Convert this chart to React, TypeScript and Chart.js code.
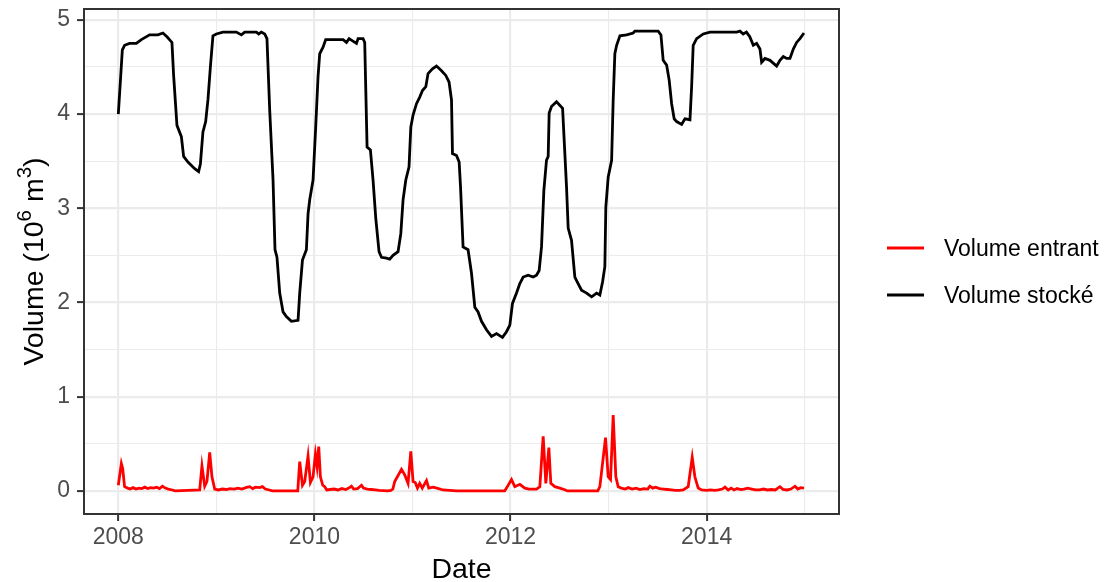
import React, { useEffect, useRef } from 'react';
import { Chart, registerables } from 'chart.js';

Chart.register(...registerables);

// ---- Data (decimal years) ----
const storedDates = [
  2008.0, 2008.041, 2008.064, 2008.115, 2008.184, 2008.235, 2008.319, 2008.404, 2008.455, 2008.496,
  2008.547, 2008.564, 2008.598, 2008.643, 2008.666, 2008.71, 2008.779, 2008.819, 2008.837, 2008.863,
  2008.891, 2008.914, 2008.939, 2008.965, 2009.0, 2009.067, 2009.204, 2009.255, 2009.289, 2009.408,
  2009.432, 2009.459, 2009.493, 2009.516, 2009.544, 2009.578, 2009.598, 2009.618, 2009.646, 2009.68,
  2009.714, 2009.765, 2009.833, 2009.85, 2009.878, 2009.918, 2009.935, 2009.952, 2009.986, 2010.013,
  2010.037, 2010.054, 2010.088, 2010.115, 2010.19, 2010.292, 2010.327, 2010.353, 2010.429, 2010.445,
  2010.496, 2010.513, 2010.537, 2010.571, 2010.598, 2010.626, 2010.659, 2010.684, 2010.735, 2010.768,
  2010.802, 2010.853, 2010.881, 2010.904, 2010.932, 2010.965, 2010.983, 2011.006, 2011.041, 2011.074,
  2011.102, 2011.136, 2011.159, 2011.204, 2011.245, 2011.296, 2011.34, 2011.373, 2011.398, 2011.408,
  2011.449, 2011.476, 2011.49, 2011.516, 2011.567, 2011.602, 2011.636, 2011.669, 2011.704, 2011.755,
  2011.806, 2011.857, 2011.918, 2011.959, 2011.993, 2012.02, 2012.061, 2012.095, 2012.129, 2012.18,
  2012.231, 2012.265, 2012.292, 2012.316, 2012.34, 2012.367, 2012.384, 2012.394, 2012.418, 2012.469,
  2012.531, 2012.544, 2012.571, 2012.588, 2012.622, 2012.656, 2012.68, 2012.724, 2012.776, 2012.827,
  2012.878, 2012.911, 2012.939, 2012.962, 2012.972, 2012.996, 2013.031, 2013.047, 2013.064, 2013.082,
  2013.116, 2013.184, 2013.251, 2013.268, 2013.506, 2013.534, 2013.557, 2013.592, 2013.618, 2013.643,
  2013.669, 2013.694, 2013.745, 2013.779, 2013.83, 2013.847, 2013.863, 2013.898, 2013.966, 2014.034,
  2014.306, 2014.34, 2014.373, 2014.406, 2014.44, 2014.476, 2014.51, 2014.544, 2014.561, 2014.595,
  2014.646, 2014.714, 2014.748, 2014.782, 2014.816, 2014.85, 2014.884, 2014.918, 2014.952, 2014.993,
];

const storedValues = [
  4.0, 4.68, 4.73, 4.75, 4.75, 4.79, 4.84, 4.84, 4.86, 4.82,
  4.76, 4.41, 3.88, 3.76, 3.55, 3.49, 3.42, 3.39, 3.47, 3.81,
  3.92, 4.15, 4.5, 4.83, 4.85, 4.87, 4.87, 4.84, 4.87, 4.87,
  4.85, 4.87, 4.85, 4.8, 4.04, 3.3, 2.56, 2.48, 2.1, 1.9,
  1.85, 1.8, 1.81, 2.1, 2.45, 2.56, 2.94, 3.09, 3.3, 3.86,
  4.4, 4.64, 4.71, 4.79, 4.79, 4.79, 4.76, 4.8, 4.75, 4.8,
  4.8, 4.76, 3.65, 3.62, 3.3, 2.89, 2.54, 2.48, 2.47, 2.46,
  2.5, 2.54, 2.73, 3.09, 3.3, 3.44, 3.86, 3.99, 4.11, 4.18,
  4.25, 4.29, 4.43, 4.48, 4.51, 4.46, 4.41, 4.34, 4.15, 3.58,
  3.56, 3.49, 3.23, 2.59, 2.56, 2.31, 1.95, 1.9, 1.8, 1.71,
  1.64, 1.67, 1.63, 1.69, 1.76, 1.99, 2.1, 2.2, 2.27, 2.29,
  2.27, 2.29, 2.34, 2.59, 3.19, 3.51, 3.55, 4.01, 4.08, 4.13,
  4.06, 3.79, 3.23, 2.79, 2.66, 2.27, 2.22, 2.13, 2.1, 2.06,
  2.1, 2.08, 2.22, 2.38, 3.01, 3.33, 3.51, 4.15, 4.64, 4.73,
  4.83, 4.84, 4.86, 4.88, 4.88, 4.84, 4.57, 4.52, 4.36, 4.11,
  3.95, 3.92, 3.89, 3.95, 3.94, 4.29, 4.73, 4.8, 4.85, 4.87,
  4.87, 4.88, 4.85, 4.87, 4.82, 4.73, 4.75, 4.69, 4.55, 4.59,
  4.57, 4.51, 4.57, 4.61, 4.59, 4.59, 4.69, 4.76, 4.8, 4.86,
];

const inflowDates = [
  2008.0, 2008.031, 2008.044, 2008.064, 2008.095, 2008.12, 2008.15, 2008.18, 2008.21, 2008.24,
  2008.27, 2008.3, 2008.33, 2008.36, 2008.39, 2008.42, 2008.45, 2008.48, 2008.51, 2008.55,
  2008.58, 2008.83, 2008.853, 2008.881, 2008.904, 2008.932, 2008.955, 2008.983, 2009.02, 2009.06,
  2009.1, 2009.14, 2009.18, 2009.22, 2009.26, 2009.3, 2009.34, 2009.37, 2009.4, 2009.44,
  2009.47, 2009.5, 2009.54, 2009.57, 2009.83, 2009.85, 2009.878, 2009.901, 2009.935, 2009.959,
  2009.986, 2010.01, 2010.027, 2010.044, 2010.061, 2010.085, 2010.105, 2010.126, 2010.16, 2010.2,
  2010.24, 2010.28, 2010.32, 2010.35, 2010.378, 2010.4, 2010.44, 2010.48, 2010.5, 2010.54,
  2010.58, 2010.62, 2010.66, 2010.75, 2010.78, 2010.8, 2010.819, 2010.888, 2010.921, 2010.955,
  2010.983, 2011.006, 2011.028, 2011.051, 2011.074, 2011.1, 2011.143, 2011.166, 2011.21, 2011.25,
  2011.31, 2011.38, 2011.45, 2011.94, 2011.959, 2012.01, 2012.044, 2012.095, 2012.146, 2012.19,
  2012.265, 2012.299, 2012.333, 2012.36, 2012.391, 2012.411, 2012.452, 2012.503, 2012.56, 2012.58,
  2012.89, 2012.911, 2012.969, 2012.996, 2013.02, 2013.047, 2013.074, 2013.098, 2013.13, 2013.17,
  2013.2, 2013.24, 2013.28, 2013.32, 2013.36, 2013.4, 2013.421, 2013.45, 2013.48, 2013.52,
  2013.56, 2013.6, 2013.64, 2013.68, 2013.72, 2013.761, 2013.812, 2013.853, 2013.88, 2013.914,
  2013.95, 2014.0, 2014.04, 2014.08, 2014.12, 2014.16, 2014.187, 2014.22, 2014.25, 2014.28,
  2014.31, 2014.35, 2014.38, 2014.42, 2014.46, 2014.5, 2014.54, 2014.58, 2014.62, 2014.66,
  2014.7, 2014.748, 2014.78, 2014.82, 2014.86, 2014.901, 2014.93, 2014.96, 2014.993,
];

const inflowValues = [
  0.06, 0.29, 0.24, 0.045, 0.03, 0.02, 0.035, 0.02, 0.03, 0.025,
  0.04, 0.025, 0.035, 0.03, 0.04, 0.025, 0.05, 0.03, 0.02, 0.01,
  0.0, 0.01, 0.265, 0.05, 0.1, 0.41, 0.15, 0.02, 0.01, 0.02,
  0.015, 0.025, 0.02, 0.03, 0.02, 0.035, 0.045, 0.025, 0.04, 0.035,
  0.045, 0.02, 0.01, 0.0, 0.0, 0.31, 0.06, 0.1, 0.37, 0.09,
  0.15, 0.39, 0.26, 0.47, 0.15, 0.06, 0.045, 0.01, 0.015, 0.02,
  0.01, 0.025, 0.015, 0.03, 0.05, 0.02, 0.025, 0.06, 0.03, 0.02,
  0.015, 0.01, 0.005, 0.0, 0.005, 0.02, 0.1, 0.23, 0.17, 0.08,
  0.42, 0.1, 0.09, 0.03, 0.08, 0.03, 0.11, 0.03, 0.04, 0.03,
  0.01, 0.005, 0.0, 0.0, 0.03, 0.12, 0.045, 0.07, 0.03, 0.02,
  0.02, 0.045, 0.58, 0.08, 0.46, 0.08, 0.045, 0.03, 0.01, 0.0,
  0.0, 0.045, 0.565, 0.15, 0.12, 0.806, 0.15, 0.045, 0.03, 0.02,
  0.035, 0.02, 0.03, 0.015, 0.025, 0.02, 0.05, 0.03, 0.04, 0.025,
  0.02, 0.015, 0.01, 0.005, 0.005, 0.01, 0.045, 0.357, 0.15, 0.03,
  0.01, 0.005, 0.01, 0.005, 0.01, 0.02, 0.04, 0.01, 0.03, 0.01,
  0.025, 0.015, 0.02, 0.03, 0.02, 0.01, 0.01, 0.02, 0.01, 0.015,
  0.01, 0.045, 0.015, 0.01, 0.02, 0.05, 0.02, 0.035, 0.03,
];

const seriesLabels = ['Volume entrant', 'Volume stocké'];
const seriesColors = ['#FF0000', '#000000'];

const xGridYears = [2008, 2009, 2010, 2011, 2012, 2013, 2014, 2015];
const xTickLabels = [2008, 2010, 2012, 2014];
const yGridValues = [0, 0.5, 1, 1.5, 2, 2.5, 3, 3.5, 4, 4.5, 5];
const yTickLabels = [0, 1, 2, 3, 4, 5];

const xTitle = 'Date';
const yTitleParts = [
  { text: 'Volume (10', sup: false },
  { text: '6', sup: true },
  { text: ' m', sup: false },
  { text: '3', sup: true },
  { text: ')', sup: false },
];

const FONT = '"Liberation Sans", Arial, Helvetica, sans-serif';
const TICK_SIZE = 23;
const TITLE_SIZE = 28.5;

export default function App() {
  const ref = useRef<HTMLCanvasElement>(null);

  useEffect(() => {
    const canvas = ref.current;
    if (!canvas) return;

    const toPoints = (xs: number[], ys: number[]) => xs.map((x, i) => ({ x, y: ys[i] }));

    const decorations = {
      id: 'decorations',
      afterDraw(chart: any) {
        const { ctx, chartArea } = chart;
        const { left, right, top, bottom } = chartArea;
        ctx.save();
        // panel border
        ctx.strokeStyle = '#333333';
        ctx.lineWidth = 2;
        ctx.strokeRect(left, top, right - left, bottom - top);

        // x title
        ctx.fillStyle = '#000000';
        ctx.font = `${TITLE_SIZE}px ${FONT}`;
        ctx.textAlign = 'center';
        ctx.textBaseline = 'alphabetic';
        ctx.fillText(xTitle, (left + right) / 2, 578);

        // y title (rotated, with superscripts)
        ctx.save();
        ctx.translate(43, (top + bottom) / 2);
        ctx.rotate(-Math.PI / 2);
        ctx.textAlign = 'left';
        const supSize = TITLE_SIZE * 0.72;
        let total = 0;
        const widths = yTitleParts.map((p) => {
          ctx.font = `${p.sup ? supSize : TITLE_SIZE}px ${FONT}`;
          const w = ctx.measureText(p.text).width;
          total += w;
          return w;
        });
        let cx = -total / 2;
        yTitleParts.forEach((p, i) => {
          ctx.font = `${p.sup ? supSize : TITLE_SIZE}px ${FONT}`;
          ctx.fillText(p.text, cx, p.sup ? -TITLE_SIZE * 0.42 : 0);
          cx += widths[i];
        });
        ctx.restore();

        // legend
        const legendYs = [248, 295];
        chart.data.datasets.forEach((ds: any, i: number) => {
          const y = legendYs[i];
          ctx.strokeStyle = ds.borderColor;
          ctx.lineWidth = 3;
          ctx.beginPath();
          ctx.moveTo(887, y);
          ctx.lineTo(924, y);
          ctx.stroke();
          ctx.fillStyle = '#000000';
          ctx.font = `${TICK_SIZE}px ${FONT}`;
          ctx.textAlign = 'left';
          ctx.textBaseline = 'alphabetic';
          ctx.fillText(ds.label, 944, y + 8.3);
        });
        ctx.restore();
      },
    };

    const chart = new Chart(canvas, {
      type: 'line',
      data: {
        datasets: [
          {
            label: seriesLabels[0],
            data: toPoints(inflowDates, inflowValues),
            borderColor: seriesColors[0],
            backgroundColor: seriesColors[0],
            borderWidth: 2.8,
            pointRadius: 0,
            tension: 0,
            fill: false,
          },
          {
            label: seriesLabels[1],
            data: toPoints(storedDates, storedValues),
            borderColor: seriesColors[1],
            backgroundColor: seriesColors[1],
            borderWidth: 2.8,
            pointRadius: 0,
            tension: 0,
            fill: false,
          },
        ],
      },
      options: {
        responsive: false,
        animation: false,
        events: [],
        layout: { padding: { left: 0, right: 269, top: 9, bottom: 0 } },
        plugins: { legend: { display: false }, tooltip: { enabled: false }, title: { display: false } },
        scales: {
          x: {
            type: 'linear',
            min: 2007.65,
            max: 2015.35,
            afterBuildTicks: (s: any) => {
              s.ticks = xGridYears.map((v) => ({ value: v }));
            },
            afterFit: (s: any) => {
              s.height = 68;
              s.paddingLeft = 0;
              s.paddingRight = 0;
            },
            ticks: {
              autoSkip: false,
              maxRotation: 0,
              minRotation: 0,
              padding: 3,
              color: '#4D4D4D',
              font: { family: FONT, size: TICK_SIZE },
              callback: (v: any) => (xTickLabels.includes(Number(v)) ? String(v) : ''),
            },
            grid: {
              color: '#EBEBEB',
              lineWidth: (c: any) => (c.tick && xTickLabels.includes(c.tick.value) ? 2.2 : 1.1),
              drawTicks: true,
              tickLength: 7,
              tickWidth: 2,
              tickColor: (c: any) => (c.tick && xTickLabels.includes(c.tick.value) ? '#333333' : 'rgba(0,0,0,0)'),
            },
            border: { display: false },
          },
          y: {
            type: 'linear',
            min: -0.245,
            max: 5.115,
            afterBuildTicks: (s: any) => {
              s.ticks = yGridValues.map((v) => ({ value: v }));
            },
            afterFit: (s: any) => {
              s.width = 84;
              s.paddingTop = 0;
              s.paddingBottom = 0;
            },
            ticks: {
              autoSkip: false,
              padding: 7,
              color: '#4D4D4D',
              font: { family: FONT, size: TICK_SIZE },
              callback: (v: any) => (yTickLabels.includes(Number(v)) ? String(v) : ''),
            },
            grid: {
              color: '#EBEBEB',
              lineWidth: (c: any) => (c.tick && yTickLabels.includes(c.tick.value) ? 2.2 : 1.1),
              drawTicks: true,
              tickLength: 7,
              tickWidth: 2,
              tickColor: (c: any) => (c.tick && yTickLabels.includes(c.tick.value) ? '#333333' : 'rgba(0,0,0,0)'),
            },
            border: { display: false },
          },
        },
      },
      plugins: [decorations],
    } as any);

    return () => chart.destroy();
  }, []);

  return (
    <div style={{ position: 'fixed', left: 0, top: 0, width: 1108, height: 582, background: '#ffffff' }}>
      <canvas ref={ref} width={1108} height={582} style={{ display: 'block', width: 1108, height: 582 }} />
    </div>
  );
}
